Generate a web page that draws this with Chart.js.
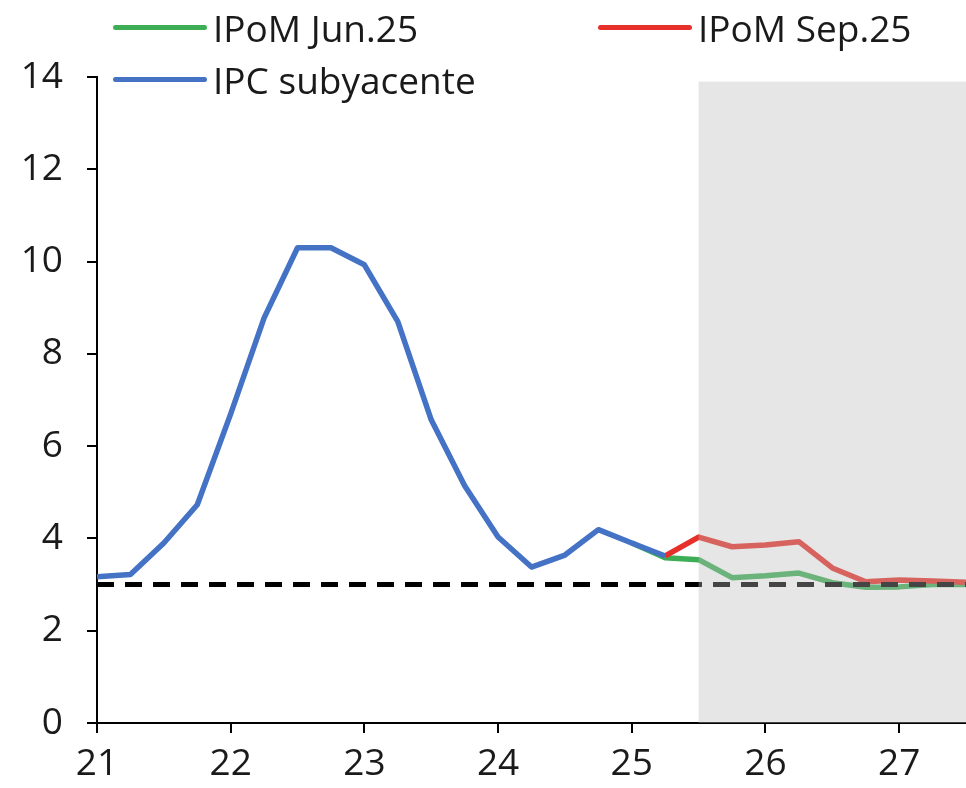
<!DOCTYPE html>
<html>
<head>
<meta charset="utf-8">
<script src="https://cdn.jsdelivr.net/npm/chart.js@4"></script>
<style>
  html, body { margin: 0; padding: 0; background: #fff; }
  #wrap { position: relative; width: 966px; height: 788px; }
  #legend { position: absolute; left: 0; top: 0; width: 966px; height: 110px; pointer-events: none;
            font-family: "Open Sans", sans-serif; font-size: 37px; color: #1a1a1a; }
  .item { position: absolute; display: flex; align-items: center; white-space: nowrap; }
  .swatch { width: 94px; height: 5px; border-radius: 3px; margin-right: 6px; }
</style>
</head>
<body>
<div id="wrap">
  <canvas id="chart" width="966" height="788"></canvas>
  <div id="legend"></div>
</div>
<script>
// data, quarterly (21 = 2021Q1)
const quarters = [21, 21.25, 21.5, 21.75, 22, 22.25, 22.5, 22.75, 23, 23.25, 23.5, 23.75,
                  24, 24.25, 24.5, 24.75, 25, 25.25, 25.5, 25.75, 26, 26.25, 26.5, 26.75,
                  27, 27.25, 27.5];
const ipcSubyacente = [3.17, 3.22, 3.9, 4.73, 6.7, 8.78, 10.3, 10.3, 9.93, 8.7, 6.57, 5.14,
                       4.03, 3.38, 3.64, 4.19, 3.9, 3.62, null, null, null, null, null, null,
                       null, null, null];
const ipomJun25 = [null, null, null, null, null, null, null, null, null, null, null, null,
                   null, null, null, null, 3.9, 3.58, 3.54, 3.15, 3.19, 3.25, 3.04, 2.94,
                   2.95, 3.0, 3.0];
const ipomSep25 = [null, null, null, null, null, null, null, null, null, null, null, null,
                   null, null, null, null, null, 3.62, 4.03, 3.82, 3.86, 3.93, 3.36, 3.06,
                   3.1, 3.08, 3.05];
const meta = 3;
const forecastStart = 25.5;
const yTicks = [0, 2, 4, 6, 8, 10, 12, 14];
const xTicks = [21, 22, 23, 24, 25, 26, 27];

const BLUE = "#4472c4";
const GREEN = "#3dae55";
const RED = "#e8302a";

const el = id => document.getElementById(id);

const pts = arr => quarters.map((q, i) => ({ x: q, y: arr[i] }));

// legend (html so it can sit over the plot like the original)
const legendItems = [
    { label: "IPoM Jun.25", color: GREEN, left: 113, top: 28 },
    { label: "IPoM Sep.25", color: RED, left: 598, top: 28 },
    { label: "IPC subyacente", color: BLUE, left: 113, top: 80 }
];
legendItems.forEach(it => {
    const d = document.createElement("div");
    d.className = "item";
    d.style.left = it.left + "px";
    d.style.top = (it.top - 26) + "px";
    d.innerHTML = `<span class="swatch" style="background:${it.color}"></span><span>${it.label}</span>`;
    el("legend").appendChild(d);
});

// grey box over the forecast period, drawn on top like the source
const shadePlugin = {
    id: "shade",
    afterDatasetsDraw(chart) {
        const { ctx, chartArea, scales } = chart;
        const x0 = scales.x.getPixelForValue(forecastStart);
        const yTop = scales.y.getPixelForValue(13.9);
        ctx.save();
        ctx.fillStyle = "rgba(186,186,186,0.37)";
        ctx.fillRect(x0, yTop, chartArea.right - x0, chartArea.bottom - yTop);
        ctx.restore();
    }
};

const tickFont = { family: "Open Sans", size: 37 };

new Chart(el("chart").getContext("2d"), {
    type: "line",
    data: {
        datasets: [
            { label: "IPC subyacente", data: pts(ipcSubyacente), borderColor: BLUE, borderWidth: 5.5, order: 0 },
            { label: "Meta", data: [{ x: 21, y: meta }, { x: 27.5, y: meta }], borderColor: "#000",
              borderWidth: 5, borderDash: [17, 11], order: 1 },
            { label: "IPoM Sep.25", data: pts(ipomSep25), borderColor: RED, borderWidth: 5.5, order: 2 },
            { label: "IPoM Jun.25", data: pts(ipomJun25), borderColor: GREEN, borderWidth: 5.5, order: 3 }
        ]
    },
    options: {
        responsive: false,
        animation: false,
        events: [],
        elements: { point: { radius: 0 }, line: { tension: 0, borderJoinStyle: "round" } },
        layout: { padding: { top: 77, right: 0, left: 0, bottom: 0 } },
        plugins: { legend: { display: false }, tooltip: { enabled: false } },
        scales: {
            x: {
                type: "linear",
                min: 21,
                max: 27.5,
                afterBuildTicks: s => { s.ticks = xTicks.map(v => ({ value: v })); },
                afterFit: s => { s.height = 65; },
                grid: { display: true, drawOnChartArea: false, drawTicks: true, tickLength: 10, color: "#000", lineWidth: 2 },
                border: { color: "#000", width: 2 },
                ticks: { font: tickFont, color: "#1a1a1a", padding: 9, maxRotation: 0 }
            },
            y: {
                min: 0,
                max: 14,
                afterBuildTicks: s => { s.ticks = yTicks.map(v => ({ value: v })); },
                afterFit: s => { s.width = 97; },
                grid: { display: true, drawOnChartArea: false, drawTicks: true, tickLength: 10, color: "#000", lineWidth: 2 },
                border: { color: "#000", width: 2 },
                ticks: { font: tickFont, color: "#1a1a1a", padding: 24 }
            }
        }
    },
    plugins: [shadePlugin]
});
</script>
</body>
</html>
